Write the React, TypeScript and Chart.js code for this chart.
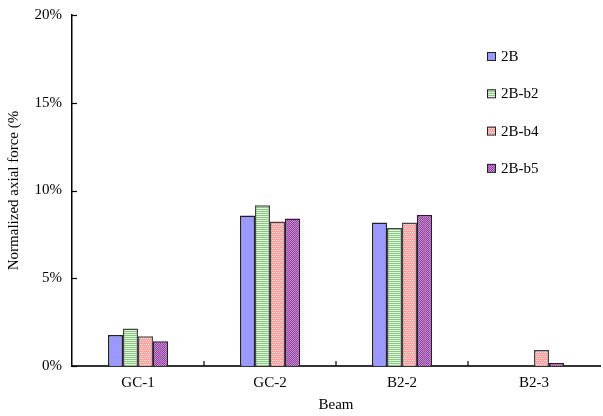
import { useEffect, useRef } from "react";
import { Chart, registerables } from "chart.js";

Chart.register(...registerables);

const categories = ["GC-1", "GC-2", "B2-2", "B2-3"];
const seriesNames = ["2B", "2B-b2", "2B-b4", "2B-b5"];
const values2B = [1.76, 8.58, 8.18, 0];
const values2Bb2 = [2.13, 9.16, 7.86, 0];
const values2Bb4 = [1.69, 8.24, 8.18, 0.91];
const values2Bb5 = [1.41, 8.41, 8.6, 0.17];
const yTicks = [0, 5, 10, 15, 20];

const FONT = "'Liberation Serif', 'Times New Roman', serif";

// small tiled fills that look like the spreadsheet hatch patterns
const makePattern = (bg: string, fg: string, kind: string) => {
  const c = document.createElement("canvas");
  c.width = 4;
  c.height = 4;
  const g = c.getContext("2d")!;
  g.fillStyle = bg;
  g.fillRect(0, 0, 4, 4);
  g.fillStyle = fg;
  if (kind === "lines") {
    g.fillRect(0, 1, 4, 1);
    g.fillRect(0, 3, 4, 1);
  } else if (kind === "check") {
    g.fillRect(0, 0, 1, 1);
    g.fillRect(2, 0, 1, 1);
    g.fillRect(1, 2, 1, 1);
    g.fillRect(3, 2, 1, 1);
  } else {
    for (let i = 0; i < 4; i++) g.fillRect(i, 3 - i, 1, 1);
    for (let i = 0; i < 4; i++) g.fillRect((i + 2) % 4, 3 - i, 1, 1);
  }
  return g.createPattern(c, "repeat")!;
};

const insideTicks = {
  id: "insideTicks",
  afterDatasetsDraw(chart: any) {
    const { ctx, chartArea, scales } = chart;
    ctx.save();
    ctx.strokeStyle = "#000";
    ctx.lineWidth = 1.2;
    scales.y.ticks.forEach((_t: any, i: number) => {
      const y = Math.round(scales.y.getPixelForTick(i)) + 0.5;
      ctx.beginPath();
      ctx.moveTo(chartArea.left, y);
      ctx.lineTo(chartArea.left + 5, y);
      ctx.stroke();
    });
    for (let i = 0; i < categories.length - 1; i++) {
      const x =
        (scales.x.getPixelForValue(i) + scales.x.getPixelForValue(i + 1)) / 2;
      ctx.beginPath();
      ctx.moveTo(x, chartArea.bottom);
      ctx.lineTo(x, chartArea.bottom - 5);
      ctx.stroke();
    }
    ctx.restore();
  },
};

const boxLegend = {
  id: "boxLegend",
  afterDraw(chart: any) {
    const { ctx } = chart;
    ctx.save();
    ctx.font = `15px ${FONT}`;
    ctx.textBaseline = "middle";
    chart.data.datasets.forEach((ds: any, i: number) => {
      const y = 56 + i * 37.3;
      ctx.fillStyle = ds.backgroundColor;
      ctx.fillRect(487, y - 4, 8, 8);
      ctx.strokeStyle = "#222";
      ctx.lineWidth = 1;
      ctx.strokeRect(487.5, y - 3.5, 8, 8);
      ctx.fillStyle = "#000";
      ctx.fillText(ds.label, 501, y + 1);
    });
    ctx.restore();
  },
};

const App = () => {
  const canvasRef = useRef<HTMLCanvasElement>(null);

  useEffect(() => {
    if (!canvasRef.current) return;

    const fills = [
      "#9999FF",
      makePattern("#E4F4E0", "#86C77E", "lines"),
      makePattern("#FF9C9C", "#FFF0F0", "check"),
      makePattern("#C790D2", "#8F3F9C", "diag"),
    ];
    const borders = ["#222", "#444", "#444", "#3a1040"];
    const series = [values2B, values2Bb2, values2Bb4, values2Bb5];

    const chart = new Chart(canvasRef.current, {
      type: "bar",
      data: {
        labels: categories,
        datasets: series.map((data, i) => ({
          label: seriesNames[i],
          data,
          backgroundColor: fills[i] as any,
          borderColor: borders[i],
          borderWidth: 1.5,
          categoryPercentage: 0.455,
          barPercentage: 1,
        })),
      },
      options: {
        animation: false,
        responsive: true,
        maintainAspectRatio: false,
        layout: { padding: { top: 15, right: 3, left: 0, bottom: 0 } },
        plugins: {
          legend: { display: false },
          tooltip: { enabled: false },
        },
        scales: {
          x: {
            grid: { display: false, drawTicks: false },
            border: { display: true, color: "#333", width: 2 },
            ticks: {
              color: "#000",
              padding: 8,
              font: { family: FONT, size: 15 },
            },
            title: {
              display: true,
              text: "Beam",
              color: "#000",
              padding: { top: 0, bottom: 2 },
              font: { family: FONT, size: 15 },
            },
            afterFit(scale: any) {
              scale.height = 50;
              scale.paddingLeft = 0;
              scale.paddingRight = 0;
            },
          },
          y: {
            min: 0,
            max: 20,
            afterBuildTicks(scale: any) {
              scale.ticks = yTicks.map((v) => ({ value: v }));
            },
            grid: { display: false, drawTicks: false },
            border: { display: true, color: "#000", width: 1.5 },
            ticks: {
              color: "#000",
              padding: 10,
              font: { family: FONT, size: 15 },
              callback: (v: any) => v + "%",
            },
            title: {
              display: true,
              text: "Normalized axial force (%",
              color: "#000",
              padding: { top: 5, bottom: 0 },
              font: { family: FONT, size: 15 },
            },
            afterFit(scale: any) {
              scale.width = 72;
              scale.paddingTop = 0;
              scale.paddingBottom = 0;
            },
          },
        },
      },
      plugins: [insideTicks, boxLegend],
    });

    return () => {
      chart.destroy();
    };
  }, []);

  return (
    <div
      style={{
        position: "fixed",
        left: 0,
        top: 0,
        width: "603px",
        height: "416px",
        background: "#fff",
      }}
    >
      <canvas ref={canvasRef} />
    </div>
  );
};

export default App;
